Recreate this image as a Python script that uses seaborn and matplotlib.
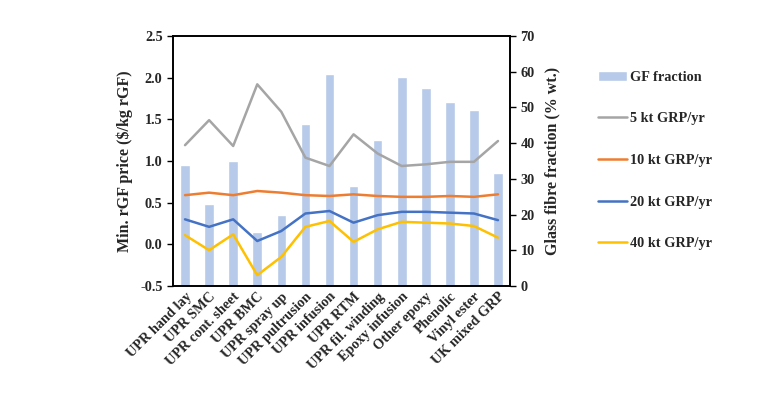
import numpy as np
import pandas as pd
import matplotlib
matplotlib.use("Agg")
import matplotlib.pyplot as plt
import seaborn as sns

categories = ["UPR hand lay", "UPR SMC", "UPR cont. sheet", "UPR BMC", "UPR spray up",
              "UPR pultrusion", "UPR infusion", "UPR RTM", "UPR fil. winding",
              "Epoxy infusion", "Other epoxy", "Phenolic", "Vinyl ester", "UK mixed GRP"]

# glass fibre fraction, % wt. (right axis)
gf_fraction = [34, 23, 35, 15, 20, 45.3, 59.3, 28, 41, 58.5, 55.3, 51.6, 49.3, 31.7]

# minimum rGF price, $/kg rGF (left axis)
price_5kt = [1.19, 1.49, 1.18, 1.92, 1.59, 1.04, 0.94, 1.32, 1.09, 0.94, 0.96, 0.99, 0.99, 1.24]
price_10kt = [0.59, 0.62, 0.59, 0.64, 0.62, 0.59, 0.58, 0.60, 0.58, 0.57, 0.57, 0.58, 0.57, 0.60]
price_20kt = [0.30, 0.21, 0.30, 0.04, 0.16, 0.37, 0.40, 0.26, 0.35, 0.39, 0.39, 0.38, 0.37, 0.29]
price_40kt = [0.11, -0.07, 0.12, -0.37, -0.15, 0.21, 0.28, 0.03, 0.18, 0.27, 0.26, 0.25, 0.22, 0.08]

series = [("5 kt GRP/yr", price_5kt, "#a5a5a5"),
          ("10 kt GRP/yr", price_10kt, "#ed7d31"),
          ("20 kt GRP/yr", price_20kt, "#4472c4"),
          ("40 kt GRP/yr", price_40kt, "#ffc000")]

sns.set_style("white")
plt.rcParams["font.family"] = ["Liberation Serif", "DejaVu Serif"]
plt.rcParams["font.weight"] = "bold"

fig = plt.figure(figsize=(7.73, 3.99), dpi=100)
ax = fig.add_axes([0.2238, 0.2832, 0.436, 0.6266])
ax2 = ax.twinx()

bars = pd.DataFrame({"cat": categories, "gf": gf_fraction})
sns.barplot(data=bars, x="cat", y="gf", ax=ax2, color="#b8cae9", width=0.4,
            saturation=1, label="GF fraction")
if ax2.get_legend() is not None:
    ax2.get_legend().remove()

idx = np.arange(len(categories))
for name, vals, col in series:
    df = pd.DataFrame({"x": idx, "y": vals})
    sns.lineplot(data=df, x="x", y="y", ax=ax, color=col, lw=1.8, label=name,
                 sort=False, legend=False)
if ax.get_legend() is not None:
    ax.get_legend().remove()

ax.set_zorder(ax2.get_zorder() + 1)
ax.patch.set_visible(False)

ax.set_xlim(-0.5, len(categories) - 0.5)
ax.set_ylim(-0.5, 2.5)
ax.set_yticks(np.arange(-0.5, 2.51, 0.5))
ax.set_yticklabels([f"{v:.1f}" for v in np.arange(-0.5, 2.51, 0.5)])
ax2.set_ylim(0, 70)
ax2.set_yticks(range(0, 71, 10))

ax.set_xticks(idx)
ax.set_xticklabels(categories, rotation=45, ha="right", rotation_mode="anchor",
                   fontsize=10.3, fontweight="bold")
ax2.set_xlabel("")
ax.set_xlabel("")
ax.set_ylabel("Min. rGF price ($/kg rGF)", fontsize=11.5, fontweight="bold", labelpad=5)
ax2.set_ylabel("Glass fibre fraction (% wt.)", fontsize=11.5, fontweight="bold", labelpad=7)

for a in (ax, ax2):
    a.tick_params(axis="y", labelsize=10.3, length=4, width=1, direction="out", color="black")
    for s in a.spines.values():
        s.set_color("black")
        s.set_linewidth(1.2)
ax.tick_params(axis="y", left=True)
ax2.tick_params(axis="y", right=True)
ax.tick_params(axis="x", length=0, pad=3)
for lab in ax.get_yticklabels() + ax2.get_yticklabels():
    lab.set_fontweight("bold")

h1, l1 = ax2.get_legend_handles_labels()
h2, l2 = ax.get_legend_handles_labels()
fig.legend(h1 + h2, l1 + l2, loc="upper left", bbox_to_anchor=(0.757, 0.855),
           frameon=False, labelspacing=2.0, handlelength=2.0,
           handletextpad=0.2, prop={"weight": "bold", "size": 10.3})

fig.savefig("out.png", dpi=100)
